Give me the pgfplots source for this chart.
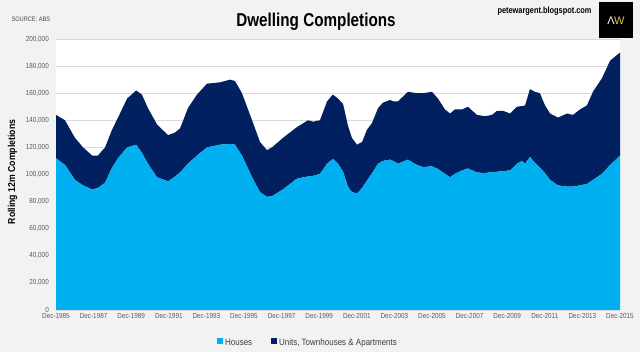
\documentclass[border=0pt]{standalone}
\usepackage{pgfplots}
\pgfplotsset{compat=1.18}
\usepackage{pgfplotstable}
\usepackage{fontspec}
\setmainfont{Liberation Sans}
\newfontfamily\narrow[FakeStretch=0.87]{Liberation Sans}
\newfontfamily\narrowb[FakeStretch=0.82]{Liberation Sans}
\definecolor{housecol}{HTML}{00B0F0}
\definecolor{unitcol}{HTML}{002060}
\definecolor{bgcol}{HTML}{F2F2F2}
\definecolor{gridcol}{HTML}{D9D9D9}
\definecolor{txtcol}{HTML}{595959}
\definecolor{goldcol}{HTML}{D8C64A}

\pgfplotstableread{
t houses units
0.00 112000 32000
0.48 107000 33000
1.01 96000 31000
1.44 92000 28000
1.92 89000 25000
2.23 90000 24000
2.61 94000 26000
2.98 105000 28000
3.30 112000 30000
3.78 120000 36000
4.26 122000 40000
4.57 116000 43000
4.89 108000 41000
5.37 98000 39000
5.96 95000 34000
6.33 98500 32500
6.60 101500 32500
7.02 108000 41000
7.50 114000 45000
8.03 120000 47000
8.72 122000 46000
9.26 122500 47500
9.52 122000 47000
9.89 114000 46000
10.43 98000 42000
10.85 87000 37000
11.22 83500 34500
11.49 84000 36000
12.07 89000 38000
12.82 97000 38000
13.40 98500 41500
13.67 99000 40000
14.04 100500 39500
14.42 108000 46000
14.73 111500 47500
15.00 108000 48000
15.27 102000 50000
15.53 91000 45000
15.74 87000 40000
16.01 86000 36000
16.28 90000 34000
16.54 95500 37500
16.81 101000 37000
17.13 108000 41000
17.39 110000 43000
17.77 111000 44000
17.93 110000 44000
18.19 108000 46000
18.72 111000 50000
19.20 107000 53000
19.52 105500 54500
20.00 106000 55000
20.32 104000 52000
20.69 100500 47500
20.96 98000 47000
21.22 100500 47500
21.60 103000 45000
21.91 104500 45500
22.39 101500 42500
22.82 101000 42000
23.19 102000 42000
23.46 102000 45000
23.78 102500 44500
24.15 103000 42000
24.52 108000 42000
24.79 110000 40500
24.95 108000 43000
25.21 113000 50000
25.48 108500 52500
25.74 105000 55000
26.01 101000 50000
26.28 96000 49000
26.70 92000 50000
27.18 91000 54000
27.50 91000 53000
27.87 92000 56000
28.24 93000 58000
28.56 96000 65000
29.04 100500 70500
29.47 107000 77000
30.00 114000 76000
}\datatable

\begin{document}
\begin{tikzpicture}[x=1pt,y=1pt]
\fill[bgcol] (0,0) rectangle (640,352);
\begin{axis}[
  at={(56pt,42pt)}, anchor=south west,
  width=564pt, height=271pt, scale only axis,
  xmin=0, xmax=30, ymin=0, ymax=200000,
  stack plots=y,
  scaled y ticks=false,
  axis background/.style={fill=white},
  axis line style={draw=none},
  major tick length=0pt,
  ymajorgrids, grid style={gridcol, line width=0.8pt},
  ytick={0,20000,40000,60000,80000,100000,120000,140000,160000,180000,200000},
  yticklabels={0,{20,000},{40,000},{60,000},{80,000},{100,000},{120,000},{140,000},{160,000},{180,000},{200,000}},
  xtick={0,2,...,30},
  xticklabels={Dec-1985,Dec-1987,Dec-1989,Dec-1991,Dec-1993,Dec-1995,Dec-1997,Dec-1999,Dec-2001,Dec-2003,Dec-2005,Dec-2007,Dec-2009,Dec-2011,Dec-2013,Dec-2015},
  ticklabel style={font=\narrow\fontsize{7.3}{8}\selectfont, text=txtcol},
  yticklabel style={inner sep=0pt, xshift=-7pt},
  xticklabel style={inner sep=0pt, yshift=-3pt},
  legend columns=2,
  legend style={at={(0.447,-0.122)}, anchor=center, draw=none, fill=none,
    font=\narrow\fontsize{9.2}{11}\selectfont, text=txtcol!70!black,
    nodes={text height=6.6pt, text depth=1.9pt},
    /tikz/every even column/.append style={column sep=17pt}},
  legend image code/.code={\fill[#1] (0pt,-1.2pt) rectangle (5.8pt,4.6pt);},
]
\addplot[fill=housecol, draw=none] table[x=t, y=houses]{\datatable} \closedcycle;
\addlegendentry{Houses}
\addplot[fill=unitcol, draw=none] table[x=t, y=units]{\datatable} \closedcycle;
\addlegendentry{Units, Townhouses \& Apartments}
\end{axis}
\node[font=\narrowb\bfseries\fontsize{18.6}{20}\selectfont, anchor=base] at (316,325) {Dwelling Completions};
\node[font=\narrow\fontsize{6.5}{8}\selectfont, text=txtcol!80!black, anchor=west] at (8,333) {SOURCE: ABS};
\node[font=\narrowb\bfseries\fontsize{9}{10}\selectfont, anchor=east] at (595,341) {petewargent.blogspot.com};
\fill[black] (599,314) rectangle (633,350);
\node[font=\fontsize{11}{12}\selectfont, inner sep=0pt] at (616,331) {\textcolor{white}{Λ}\kern-0.5pt\textcolor{goldcol}{W}};
\node[font=\narrow\bfseries\fontsize{10}{12}\selectfont, rotate=90] at (12.5,180) {Rolling 12m Completions};
\end{tikzpicture}
\end{document}
